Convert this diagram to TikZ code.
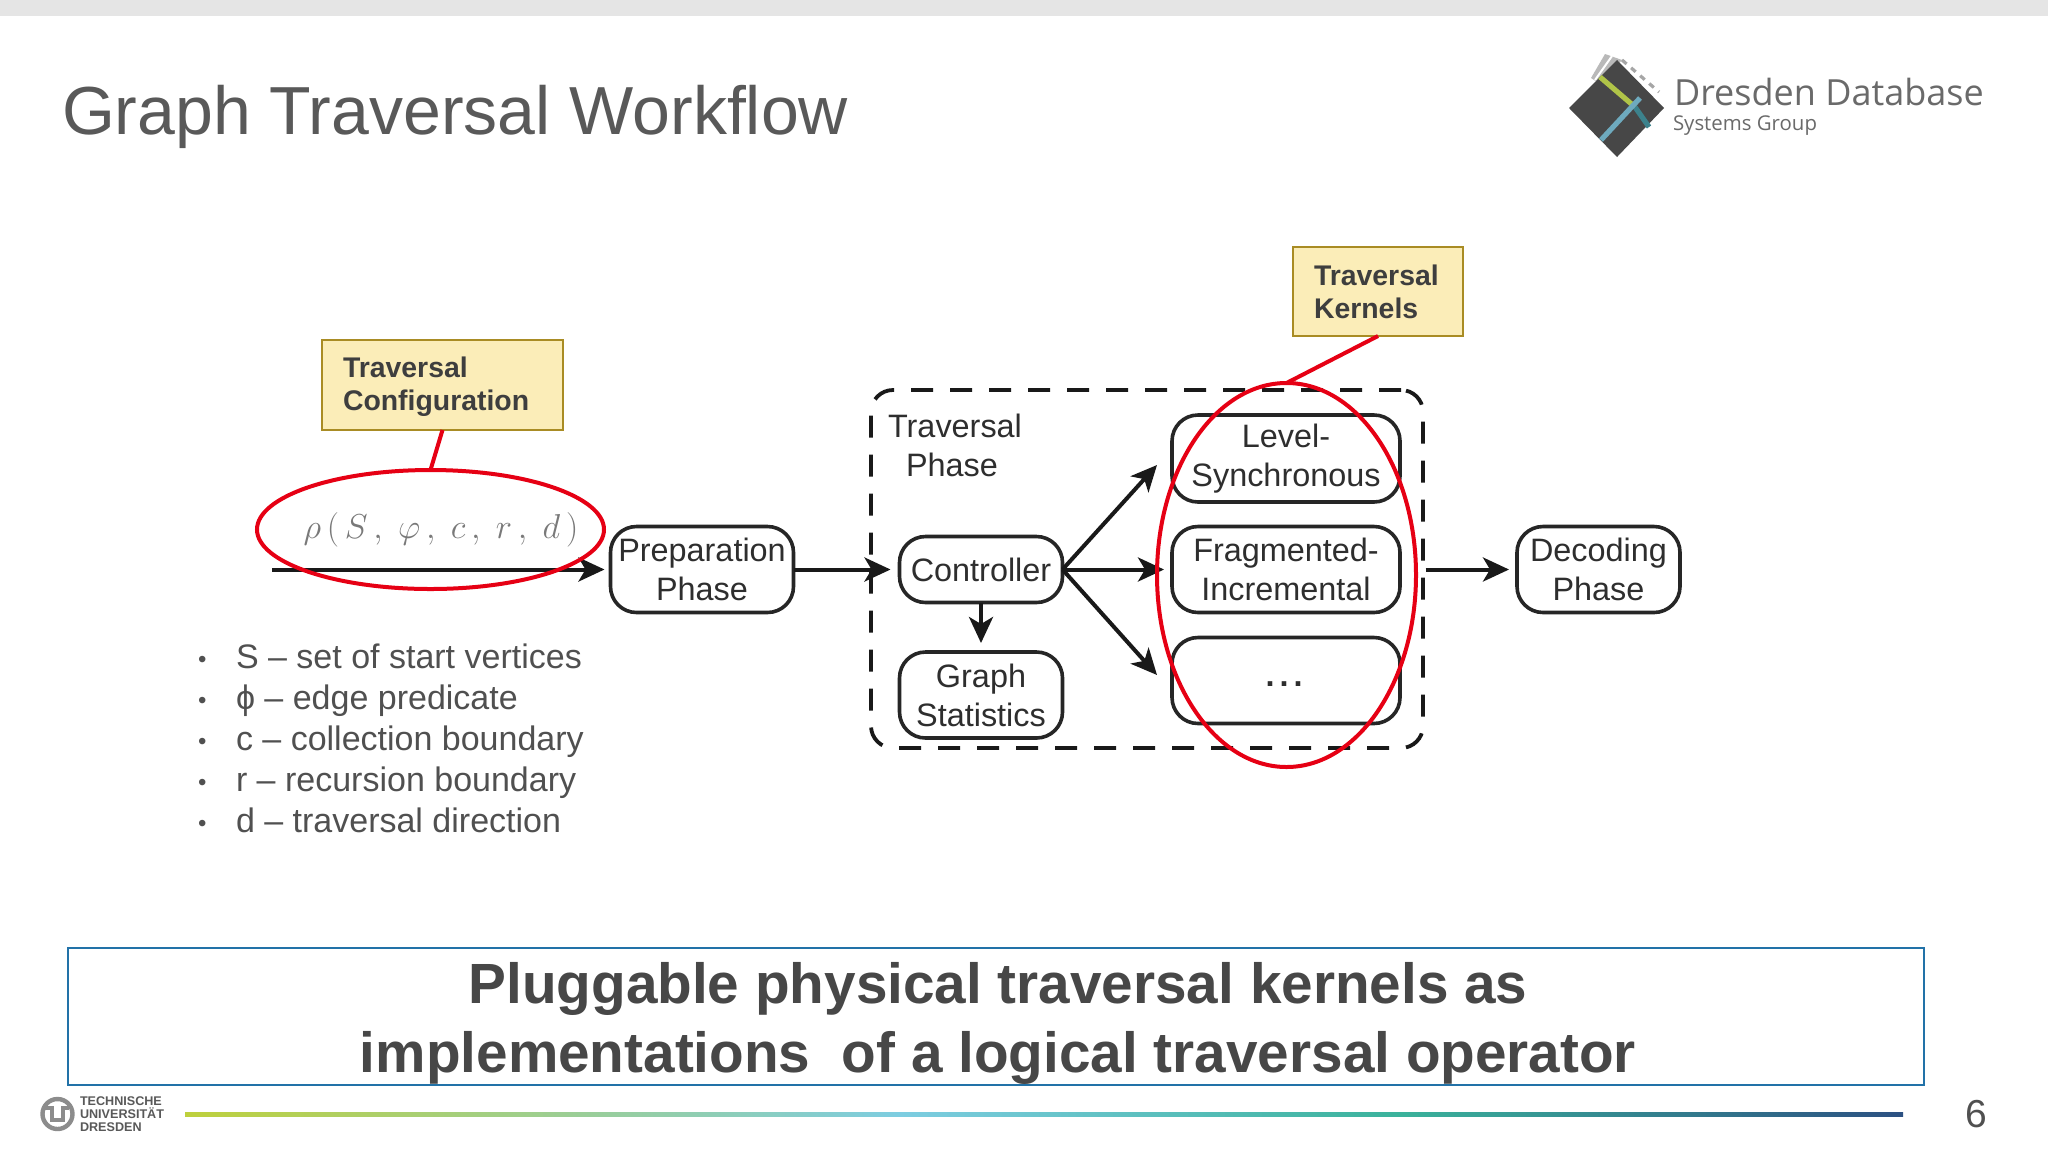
\documentclass[tikz,border=0pt]{standalone}
\usepackage{fontspec}
\setmainfont{Liberation Sans}
\newfontfamily\logofont{Open Sans}
\usetikzlibrary{arrows.meta,shapes.geometric}
\definecolor{inkdark}{HTML}{2E2E2E}
\definecolor{slidegray}{HTML}{595959}
\definecolor{notefill}{HTML}{FBEDB8}
\definecolor{noteline}{HTML}{A98C24}
\definecolor{hlred}{HTML}{E60014}
\definecolor{framedblue}{HTML}{2272A8}
\tikzset{
  phasebox/.style={draw=black!85,line width=1.8pt,rounded corners=13pt,inner sep=0pt,outer sep=0pt,align=center,
    text=inkdark,font=\fontsize{16.2}{19.5}\selectfont},
  notebox/.style={draw=noteline,line width=1pt,fill=notefill,inner xsep=10.5pt,inner ysep=0pt,outer sep=0pt,align=left,
    text=slidegray!70!black,font=\fontsize{14.2}{16.6}\selectfont\bfseries},
  flow/.style={draw=black!90,line width=2pt,-{Stealth[length=13pt,width=12pt,inset=3.5pt]}},
  hlring/.style={ellipse,draw=hlred,line width=2pt,inner sep=0pt,outer sep=0pt},
  hlline/.style={draw=hlred,line width=2pt},
  plain/.style={inner sep=0pt,outer sep=0pt},
}
\begin{document}
\begin{tikzpicture}[x=0.5pt,y=-0.5pt]
\useasboundingbox (0,0) rectangle (2048,1152);
\fill[white] (0,0) rectangle (2048,1152);
\fill[black!10] (0,0) rectangle (2048,16);

% title
\node[plain,anchor=base west,text=slidegray,font=\fontsize{34}{40}\selectfont] (title) at (62,134.5) {Graph Traversal Workflow};

% Dresden logo
\fill[gray!55] (1605,54) -- (1622,60) -- (1600,84) -- (1591,78) -- cycle;
\draw[gray!70,line width=1.6pt,dashed] (1622,60) -- (1659,92);
\draw[white,line width=1pt] (1612,56) -- (1595,80);
\fill[black!72] (1617,60) -- (1664,108) -- (1617,157) -- (1569,108) -- cycle;
\draw[line width=2.6pt,color={rgb,255:red,176;green,196;blue,72}] (1600,77) -- (1635,107);
\draw[line width=2.6pt,color={rgb,255:red,60;green,130;blue,140}] (1635,107) -- (1649,127);
\draw[line width=2.6pt,color={rgb,255:red,110;green,170;blue,190}] (1640,98) -- (1601,140);
\node[plain,anchor=west,text=slidegray!90,font=\logofont\fontsize{18}{20}\selectfont] (dd) at (1674,92) {Dresden Database};
\node[plain,anchor=west,text=slidegray!90,font=\logofont\fontsize{10.2}{12}\selectfont] (sg) at (1673,126) {Systems Group};

% traversal phase frame
\node[draw=black!90,line width=1.9pt,dash pattern=on 11pt off 8.5pt,rounded corners=11pt,plain,
  minimum width=276pt,minimum height=179pt] (frame) at (1147,569) {};
\node[plain,align=left,text=inkdark,font=\fontsize{16.2}{19.5}\selectfont] (tp) at (955,445) {Traversal\\[0pt]\hspace*{9pt}Phase};

% formula
\node[plain,text=gray!95!black,font=\fontsize{17.5}{20}\selectfont] (formula) at (441,530) {$\rho\,(\,S\,,\;\varphi\,,\;c\,,\;r\,,\;d\,)$};

% phase boxes
\node[phasebox,minimum width=91.5pt,minimum height=43pt] (prep) at (702,569.5) {Preparation\\Phase};
\node[phasebox,minimum width=81.5pt,minimum height=33pt] (ctrl) at (981,569.5) {Controller};
\node[phasebox,minimum width=81.5pt,minimum height=43pt] (stats) at (981,695) {Graph\\Statistics};
\node[phasebox,minimum width=114pt,minimum height=43.5pt] (lvl) at (1286,458.5) {Level-\\Synchronous};
\node[phasebox,minimum width=114pt,minimum height=43pt] (frag) at (1286,569.5) {Fragmented-\\Incremental};
\node[phasebox,minimum width=114pt,minimum height=43pt] (more) at (1286,680.5) {};
\node[plain,text=inkdark,font=\fontsize{16.2}{19.5}\selectfont\bfseries] (dots) at (1284,684) {.\hspace{2.5pt}.\hspace{2.5pt}.};
\node[phasebox,minimum width=81.5pt,minimum height=43pt] (dec) at (1598.5,569.5) {Decoding\\Phase};

% connectors
\coordinate (in) at (272,569.5);
\coordinate (toLvl) at (1157,465);
\coordinate (toMore) at (1157,675);
\coordinate (fr) at (1425.6,569.5);
\draw[flow,shorten >=3pt] (in) -- (prep.west);
\draw[flow,shorten >=4.5pt] (prep.east) -- (ctrl.west);
\draw[flow] (ctrl.east) -- (toLvl);
\draw[flow,shorten >=4pt] (ctrl.east) -- (frag.west);
\draw[flow] (ctrl.east) -- (toMore);
\draw[flow,shorten >=4.5pt] (ctrl.south) -- (stats.north);
\draw[flow,shorten >=4pt] (fr) -- (dec.west);

% notes and highlight rings
\node[notebox,text width=99.5pt,minimum height=45pt] (cfg) at (442.5,385) {\rule{0pt}{12pt}Traversal\\Configuration};
\node[notebox,text width=64pt,minimum height=44.5pt] (kern) at (1378,291.5) {Traversal\\Kernels};
\node[hlring,minimum width=173.5pt,minimum height=59.5pt] (ring1) at (430.5,529.5) {};
\node[hlring,minimum width=129.5pt,minimum height=192pt] (ring2) at (1286.5,575) {};
\draw[hlline] (cfg.south) -- (ring1.north);
\draw[hlline] (kern.south) -- (ring2.north);

% bullets
\node[plain,anchor=north west,align=left,text=slidegray!90!black,font=\fontsize{17}{20.5}\selectfont] (list) at (198,644) {%
\makebox[19pt][l]{\raisebox{0.5pt}{\fontsize{12}{12}\selectfont •}}S – set of start vertices\\
\makebox[19pt][l]{\raisebox{0.5pt}{\fontsize{12}{12}\selectfont •}}ϕ – edge predicate\\
\makebox[19pt][l]{\raisebox{0.5pt}{\fontsize{12}{12}\selectfont •}}c – collection boundary\\
\makebox[19pt][l]{\raisebox{0.5pt}{\fontsize{12}{12}\selectfont •}}r – recursion boundary\\
\makebox[19pt][l]{\raisebox{0.5pt}{\fontsize{12}{12}\selectfont •}}d – traversal direction};

% conclusion box
\node[draw=framedblue,line width=1.2pt,plain,minimum width=928pt,minimum height=68.5pt] (concl) at (996,1016.5) {};
\node[plain,align=center,text=slidegray!80!black,font=\fontsize{28.35}{34.5}\selectfont\bfseries] (concltext) at (998,1023.5) {Pluggable physical traversal kernels as\\implementations\ \ of a logical traversal operator};

% footer rule
\shade[left color={rgb,255:red,190;green,208;blue,60},right color={rgb,255:red,125;green,205;blue,225}] (185,1112) rectangle (900,1116);
\shade[left color={rgb,255:red,125;green,205;blue,225},right color={rgb,255:red,58;green,178;blue,155}] (900,1112) rectangle (1400,1116);
\shade[left color={rgb,255:red,58;green,178;blue,155},right color={rgb,255:red,44;green,80;blue,130}] (1400,1112) rectangle (1903,1116);
\node[plain,text=slidegray!90!black,font=\fontsize{19.5}{22}\selectfont] (pg) at (1976,1114) {6};

% TU logo
\draw[gray!90,line width=2.2pt] (57.5,1114) circle (15);
\draw[gray!90,line width=2.2pt] (46,1103) -- (46,1108) -- (52,1108) -- (52,1120) -- (63,1120) -- (63,1108) -- (69,1108);
\node[plain,anchor=west,align=left,text=slidegray,font=\fontsize{6.3}{6.6}\selectfont\bfseries] (tud) at (80,1114) {TECHNISCHE\\UNIVERSITÄT\\DRESDEN};
\end{tikzpicture}
\end{document}
